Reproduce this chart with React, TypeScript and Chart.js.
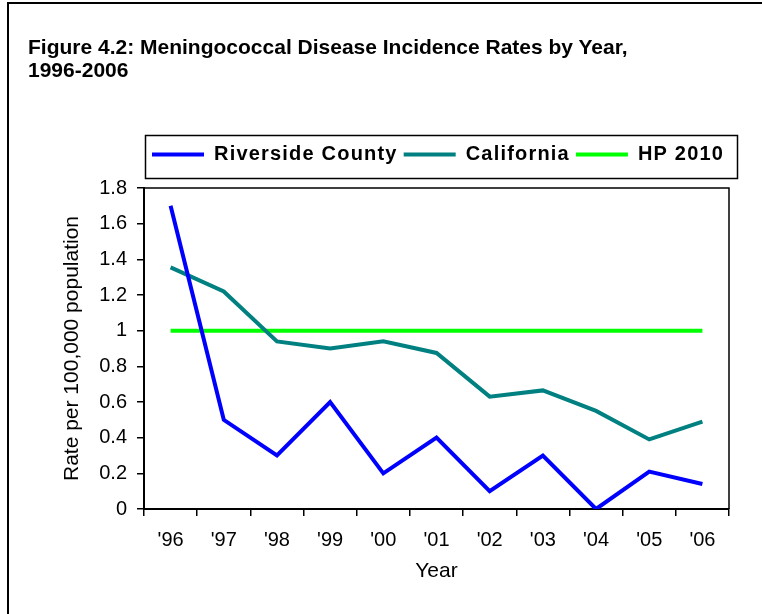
import React, { useEffect, useRef } from "react";
import { Chart, registerables } from "chart.js";

Chart.register(...registerables);

const years = ["'96", "'97", "'98", "'99", "'00", "'01", "'02", "'03", "'04", "'05", "'06"];
const riverside = [1.7, 0.5, 0.3, 0.6, 0.2, 0.4, 0.1, 0.3, 0.0, 0.21, 0.14];
const california = [1.355, 1.22, 0.94, 0.9, 0.94, 0.875, 0.63, 0.665, 0.55, 0.39, 0.49];
const hp2010 = [1, 1, 1, 1, 1, 1, 1, 1, 1, 1, 1];
const yTickLabels = ["0", "0.2", "0.4", "0.6", "0.8", "1", "1.2", "1.4", "1.6", "1.8"];
const seriesNames = ["Riverside County", "California", "HP 2010"];
const seriesColors = ["#0000FF", "#008080", "#00FF00"];

const FONT = "'Liberation Sans', Arial, Helvetica, sans-serif";
const LEGEND_SPACING = "1.2px";

const framePlugin = {
  id: "frameAndLegend",
  afterInit(chart: any) {
    const lg = chart.legend;
    if (lg && !lg.__patched) {
      lg.__patched = true;
      const fit = lg.fit.bind(lg);
      const draw = lg.draw.bind(lg);
      lg.fit = function () {
        const c = this.ctx;
        const old = c.letterSpacing;
        c.letterSpacing = LEGEND_SPACING;
        this.maxWidth = 1000;
        fit();
        c.letterSpacing = old || "0px";
      };
      lg.draw = function () {
        const c = this.ctx;
        const old = c.letterSpacing;
        c.letterSpacing = LEGEND_SPACING;
        draw();
        c.letterSpacing = old || "0px";
      };
    }
  },
  afterLayout(chart: any) {
    const lg = chart.legend;
    if (lg) {
      const h = lg.height;
      lg.left = 146;
      lg.right = 900;
      lg.width = 754;
      lg.top = 138.5;
      lg.bottom = 138.5 + h;
    }
  },
  afterDraw(chart: any) {
    const { ctx, chartArea: a } = chart;
    ctx.save();
    ctx.strokeStyle = "#000";
    ctx.lineWidth = 1.5;
    ctx.beginPath();
    ctx.moveTo(a.left, a.top);
    ctx.lineTo(a.right, a.top);
    ctx.lineTo(a.right, a.bottom);
    ctx.stroke();
    ctx.lineWidth = 1.5;
    ctx.strokeRect(145.5, 135.5, 592, 43);
    ctx.restore();
  },
};

function LineChart() {
  const ref = useRef<HTMLCanvasElement>(null);
  useEffect(() => {
    if (!ref.current) return;
    const datasets = [riverside, california, hp2010].map((d, i) => ({
      label: seriesNames[i],
      data: d,
      borderColor: seriesColors[i],
      backgroundColor: seriesColors[i],
      borderWidth: 4,
      pointRadius: 0,
      tension: 0,
      fill: false,
    }));
    const chart = new Chart(ref.current, {
      type: "line",
      data: { labels: years, datasets },
      plugins: [framePlugin],
      options: {
        responsive: false,
        animation: false,
        devicePixelRatio: 1,
        layout: { padding: { left: 0, right: 33, top: 152, bottom: 0 } },
        plugins: {
          title: { display: false },
          tooltip: { enabled: false },
          legend: {
            display: true,
            position: "top",
            align: "start",
            labels: {
              boxWidth: 52,
              boxHeight: 4,
              padding: 6,
              color: "#000",
              font: { family: FONT, size: 20, weight: "bold" },
              generateLabels: (c: any) =>
                (Chart as any).defaults.plugins.legend.labels
                  .generateLabels(c)
                  .map((l: any) => ({ ...l, lineWidth: 0 })),
            },
          },
        },
        scales: {
          x: {
            type: "category",
            offset: true,
            afterFit: (s: any) => {
              s.height = 105;
            },
            grid: {
              offset: true,
              drawOnChartArea: false,
              drawTicks: true,
              tickLength: 7,
              color: "#000",
              lineWidth: 1.5,
            },
            border: { display: true, color: "#000", width: 2 },
            ticks: {
              color: "#000",
              padding: 12,
              font: { family: FONT, size: 20 },
              maxRotation: 0,
              autoSkip: false,
            },
            title: {
              display: true,
              text: "Year",
              color: "#000",
              font: { family: FONT, size: 21 },
              padding: { top: 0, bottom: 30 },
            },
          },
          y: {
            min: 0,
            max: 1.8,
            afterFit: (s: any) => {
              s.width = 144;
            },
            grid: {
              drawOnChartArea: false,
              drawTicks: true,
              tickLength: 7,
              color: "#000",
              lineWidth: 1.5,
            },
            border: { display: true, color: "#000", width: 2 },
            ticks: {
              stepSize: 0.2,
              color: "#000",
              padding: 10,
              font: { family: FONT, size: 20 },
              callback: (_v: any, i: number) => yTickLabels[i],
            },
            title: {
              display: true,
              text: "Rate per 100,000 population",
              color: "#000",
              font: { family: FONT, size: 21 },
              padding: { top: 60, bottom: 0 },
            },
          },
        },
      },
    });
    return () => chart.destroy();
  }, []);
  return (
    <canvas
      ref={ref}
      width={762}
      height={614}
      style={{ position: "absolute", left: 0, top: 0, width: 762, height: 614 }}
    />
  );
}

export default function App() {
  return (
    <div>
      <div
        style={{
          position: "absolute",
          left: 7,
          top: 2,
          width: 755,
          height: 612,
          borderTop: "2px solid #000",
          borderLeft: "2px solid #000",
          boxSizing: "border-box",
        }}
      />
      <LineChart />
      <div
        style={{
          position: "absolute",
          left: 28,
          top: 35,
          fontFamily: FONT,
          fontWeight: "bold",
          fontSize: 21,
          lineHeight: "23px",
          color: "#000",
          whiteSpace: "nowrap",
        }}
      >
        <div>Figure 4.2: Meningococcal Disease Incidence Rates by Year,</div>
        <div>1996-2006</div>
      </div>
    </div>
  );
}
